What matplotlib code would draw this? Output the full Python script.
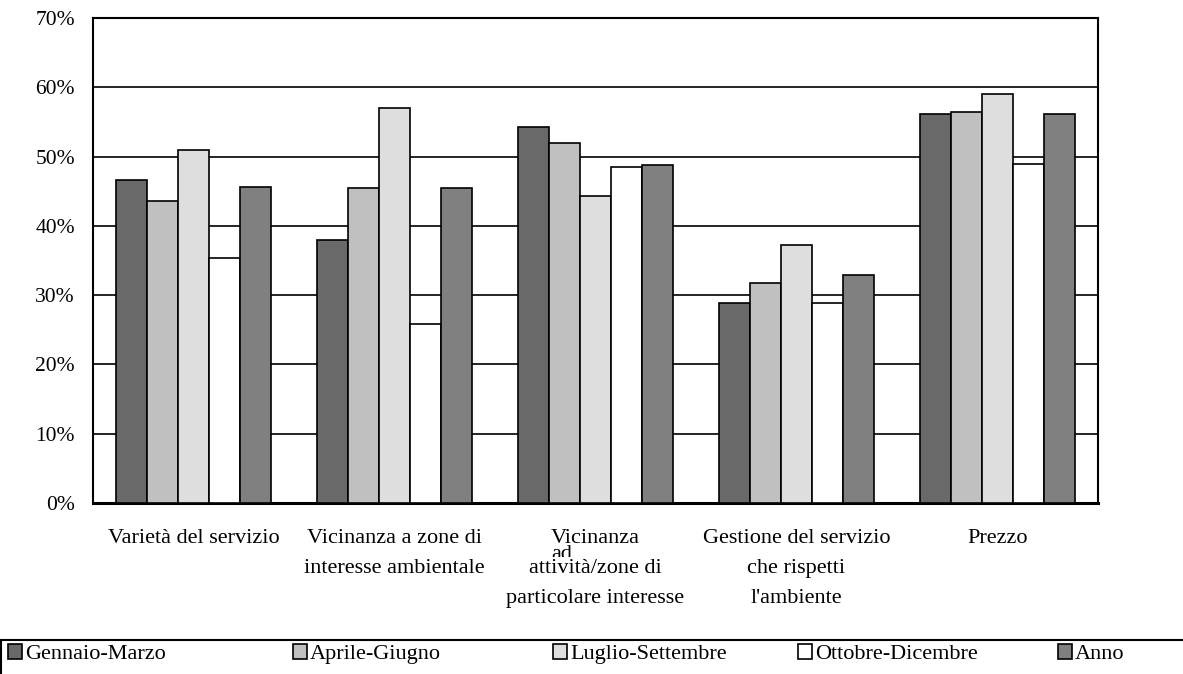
import numpy as np
import matplotlib
matplotlib.use('Agg')
import matplotlib.pyplot as plt
from matplotlib.patches import Rectangle, Patch
from matplotlib.transforms import Bbox, blended_transform_factory

plt.rcParams['font.family'] = ['Liberation Serif', 'DejaVu Serif']
plt.rcParams['font.size'] = 16

categories = [
    'Varietà del servizio',
    'Vicinanza a zone di\ninteresse ambientale',
    'Vicinanza\nattività/zone di\nparticolare interesse',
    'Gestione del servizio\nche rispetti\nl\'ambiente',
    'Prezzo',
]
series_names = ['Gennaio-Marzo', 'Aprile-Giugno', 'Luglio-Settembre', 'Ottobre-Dicembre', 'Anno']
gennaio_marzo = [46.6, 37.9, 54.3, 28.9, 56.1]
aprile_giugno = [43.6, 45.4, 52.0, 31.8, 56.4]
luglio_settembre = [50.9, 57.0, 44.3, 37.3, 59.0]
ottobre_dicembre = [35.3, 25.8, 48.5, 28.9, 48.9]
anno = [45.6, 45.4, 48.8, 32.9, 56.1]
y_ticks = [0, 10, 20, 30, 40, 50, 60, 70]

series = [gennaio_marzo, aprile_giugno, luglio_settembre, ottobre_dicembre, anno]
colors = ['#696969', '#c0c0c0', '#dedede', '#ffffff', '#808080']

W, H = 1183, 674
fig = plt.figure(figsize=(W / 100, H / 100), dpi=100)
ax = fig.add_axes([93 / W, 1 - 503 / H, (1098 - 93) / W, (503 - 18) / H])

x = np.arange(len(categories))
width = 0.154
for i, (vals, c) in enumerate(zip(series, colors)):
    ax.bar(x + (i - 2) * width, vals, width, color=c, edgecolor='black',
           linewidth=1.2, zorder=3, label=series_names[i])

ax.set_xlim(-0.5, len(categories) - 0.5)
ax.set_ylim(0, 70)
ax.set_yticks(y_ticks)
ax.set_yticklabels([f'{v}%' for v in y_ticks], fontsize=15.5)
ax.yaxis.grid(True, color='black', linewidth=1.2, zorder=0)
ax.set_axisbelow(True)
ax.tick_params(axis='y', length=0, pad=13)
ax.set_xticks(x)
ax.set_xticklabels(categories, linespacing=1.78)
ax.tick_params(axis='x', length=0, pad=19)
for s in ax.spines.values():
    s.set_linewidth(1.5)
    s.set_color('black')
ax.spines['bottom'].set_linewidth(2.2)

# the half-hidden "ad" line of the third label
tr = blended_transform_factory(ax.transData, fig.transFigure)
t = ax.text(2 - 0.17, 1 - 545 / H, 'ad', transform=tr, ha='center', va='top')
t.set_clip_box(Bbox.from_extents(0, H - 557, W, H - 540))
t.set_clip_on(True)

# legend box
fig.patches.append(Rectangle((1 / W, -0.1), 1.2, 0.1 + 1 - 640 / H, transform=fig.transFigure,
                             fill=False, edgecolor='black', linewidth=1.5))
leg_x = [8, 293, 553, 798, 1058]
for name, c, lx in zip(series_names, colors, leg_x):
    fig.legend(handles=[Patch(facecolor=c, edgecolor='black', linewidth=1.2)], labels=[name],
               loc='center left', bbox_to_anchor=(lx / W, 1 - 654 / H), frameon=False,
               handlelength=0.65, handleheight=0.65, handletextpad=0.12, borderpad=0,
               borderaxespad=0)

fig.savefig('out.png', dpi=100)
